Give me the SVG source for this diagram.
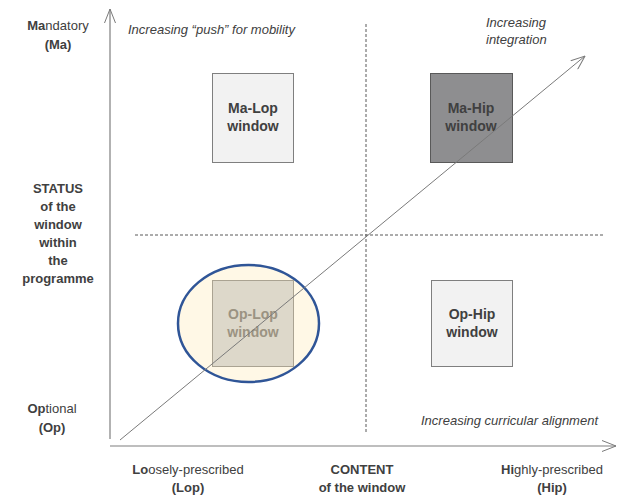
<svg xmlns="http://www.w3.org/2000/svg" width="618" height="498" viewBox="0 0 618 498">
<style>
text{font-family:"Liberation Sans",Arial,sans-serif;fill:#404040;font-size:13px;text-anchor:middle}
.b{font-weight:bold}
.i{font-style:italic;text-anchor:start}
.box{stroke-width:1}
.bl{font-size:14px;font-weight:bold}
.axis{stroke:#7f7f7f;stroke-width:1.2;fill:none}
.dash{stroke:#595959;stroke-width:1;stroke-dasharray:3,2;fill:none}
.diag{stroke:#7a7a7a;stroke-width:1;fill:none}
</style>
<defs>
<marker id="arr" viewBox="0 0 15 12" refX="14.5" refY="6" markerWidth="15" markerHeight="12" markerUnits="userSpaceOnUse" orient="auto">
<path d="M0.5,0.5 L14.5,6 L0.5,11.5" fill="none" stroke="#7a7a7a" stroke-width="1"/>
</marker>
</defs>
<rect width="618" height="498" fill="#ffffff"/>

<g id="grid">
<line class="dash" x1="366" y1="24" x2="366" y2="433"/>
<line class="dash" x1="135" y1="235" x2="605" y2="235"/>
</g>

<g id="op-lop-highlight">
<ellipse cx="248.5" cy="323.5" rx="70.5" ry="58.5" fill="#fff8e6" stroke="#2f5597" stroke-width="2.5"/>
</g>

<g id="ma-lop">
<rect class="box" x="212.5" y="73.5" width="81" height="89" fill="#f2f2f2" stroke="#7f7f7f"/>
<text class="bl" x="253" y="113">Ma-Lop</text>
<text class="bl" x="253" y="131">window</text>
</g>

<g id="ma-hip">
<rect class="box" x="430.5" y="73.5" width="82" height="89" fill="#8e8e90" stroke="#595959"/>
<text class="bl" x="471" y="113">Ma-Hip</text>
<text class="bl" x="471" y="131">window</text>
</g>

<g id="op-lop">
<rect class="box" x="212.5" y="280.5" width="81" height="86" fill="#ddd8ca" stroke="#aaa392"/>
<text class="bl" x="253" y="319" style="fill:#9b9382">Op-Lop</text>
<text class="bl" x="253" y="337" style="fill:#9b9382">window</text>
</g>

<g id="op-hip">
<rect class="box" x="431.5" y="280.5" width="81" height="86" fill="#f2f2f2" stroke="#7f7f7f"/>
<text class="bl" x="472" y="319">Op-Hip</text>
<text class="bl" x="472" y="337">window</text>
</g>

<g id="connectors">
<line class="axis" x1="110" y1="439" x2="110" y2="9" marker-end="url(#arr)"/>
<line class="axis" x1="110" y1="446" x2="616" y2="446" marker-end="url(#arr)"/>
<line class="diag" x1="120" y1="440" x2="585" y2="56" marker-end="url(#arr)"/>
</g>

<g id="labels">
<text x="58" y="30"><tspan class="b">Ma</tspan>ndatory</text>
<text class="b" x="58" y="49">(Ma)</text>
<text class="b" x="58" y="193">STATUS</text>
<text class="b" x="58" y="211">of the</text>
<text class="b" x="58" y="229">window</text>
<text class="b" x="58" y="247">within</text>
<text class="b" x="58" y="265">the</text>
<text class="b" x="58" y="283">programme</text>
<text x="52" y="413"><tspan class="b">Op</tspan>tional</text>
<text class="b" x="52" y="432">(Op)</text>
<text x="188" y="474"><tspan class="b">Lo</tspan>osely-prescribed</text>
<text class="b" x="188" y="492">(Lop)</text>
<text class="b" x="362" y="474">CONTENT</text>
<text class="b" x="362" y="492">of the window</text>
<text x="552" y="474"><tspan class="b">Hi</tspan>ghly-prescribed</text>
<text class="b" x="552" y="492">(Hip)</text>
<text class="i" x="128" y="34">Increasing “push” for mobility</text>
<text class="i" x="486" y="27">Increasing</text>
<text class="i" x="486" y="44">integration</text>
<text class="i" x="421" y="425">Increasing curricular alignment</text>
</g>
</svg>
